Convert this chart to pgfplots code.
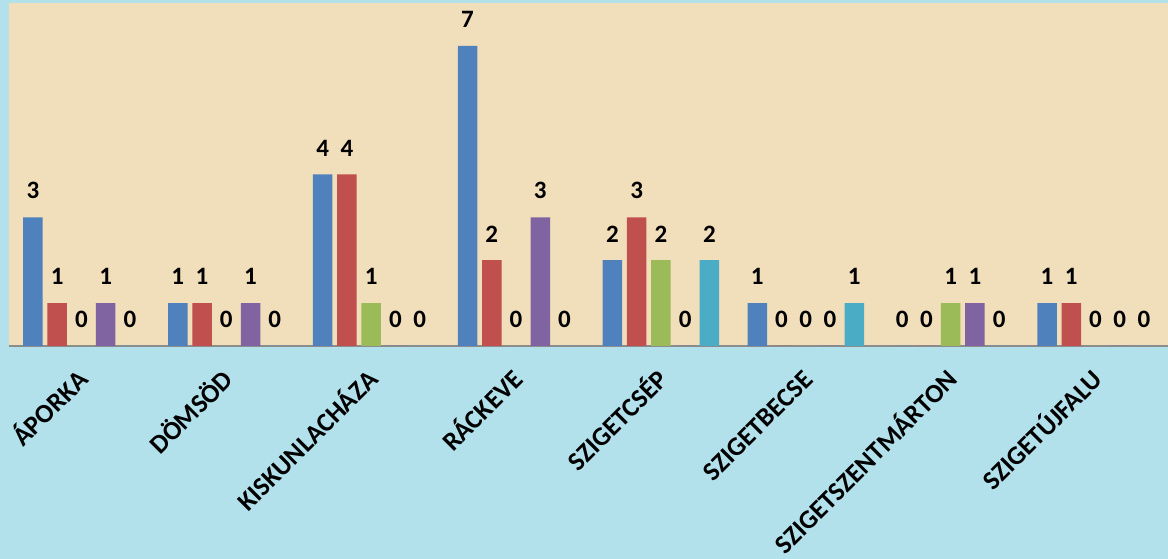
\documentclass[border=0pt]{standalone}
\usepackage{pgfplots}
\pgfplotsset{compat=1.18}
\usepackage{fontspec}
\setmainfont{Carlito}
\definecolor{sand}{RGB}{241,222,186}
\definecolor{water}{RGB}{178,225,236}
\definecolor{sblue}{RGB}{79,129,189}
\definecolor{sred}{RGB}{192,80,77}
\definecolor{sgreen}{RGB}{155,187,89}
\definecolor{spurple}{RGB}{128,100,162}
\definecolor{steal}{RGB}{75,172,198}
\newcommand{\lab}{\fontsize{26.5bp}{30bp}\selectfont\bfseries}
\newcommand{\num}{\fontsize{25bp}{29bp}\selectfont\bfseries}
\begin{document}
\begin{tikzpicture}[x=1bp,y=1bp]
\fill[water] (0,0) rectangle (1168,559);
\useasboundingbox (0,0) rectangle (1168,559);
\begin{axis}[
    at={(9bp,213bp)}, anchor=south west,
    scale only axis, width=1159bp, height=343bp,
    xmin=-0.5, xmax=7.5, ymin=0, ymax=8,
    axis background/.style={fill=sand},
    axis x line*=bottom, axis y line=none,
    x axis line style={-, draw=black!45, line width=1.5bp},
    xtick={0,...,7}, major tick length=0pt, ytick=\empty,
    xticklabels={ÁPORKA,DÖMSÖD,KISKUNLACHÁZA,RÁCKEVE,SZIGETCSÉP,SZIGETBECSE,SZIGETSZENTMÁRTON,SZIGETÚJFALU},
    xticklabel style={font=\lab, inner sep=0pt, text height=16bp, xshift=-3bp, yshift=-24bp, rotate=45, anchor=north east},
    /pgf/number format/assume math mode=true,
    ybar=4.75bp, bar width=19.5bp,
    nodes near coords,
    every node near coord/.append style={font=\num, inner sep=0pt, anchor=south, yshift=18bp, black},
]
\addplot[fill=sblue, draw=none] coordinates {(0,3) (1,1) (2,4) (3,7) (4,2) (5,1) (6,0) (7,1)};
\addplot[fill=sred, draw=none] coordinates {(0,1) (1,1) (2,4) (3,2) (4,3) (5,0) (6,0) (7,1)};
\addplot[fill=sgreen, draw=none] coordinates {(0,0) (1,0) (2,1) (3,0) (4,2) (5,0) (6,1) (7,0)};
\addplot[fill=spurple, draw=none] coordinates {(0,1) (1,1) (2,0) (3,3) (4,0) (5,0) (6,1) (7,0)};
\addplot[fill=steal, draw=none] coordinates {(0,0) (1,0) (2,0) (3,0) (4,2) (5,1) (6,0) (7,0)};
\end{axis}
\end{tikzpicture}
\end{document}
